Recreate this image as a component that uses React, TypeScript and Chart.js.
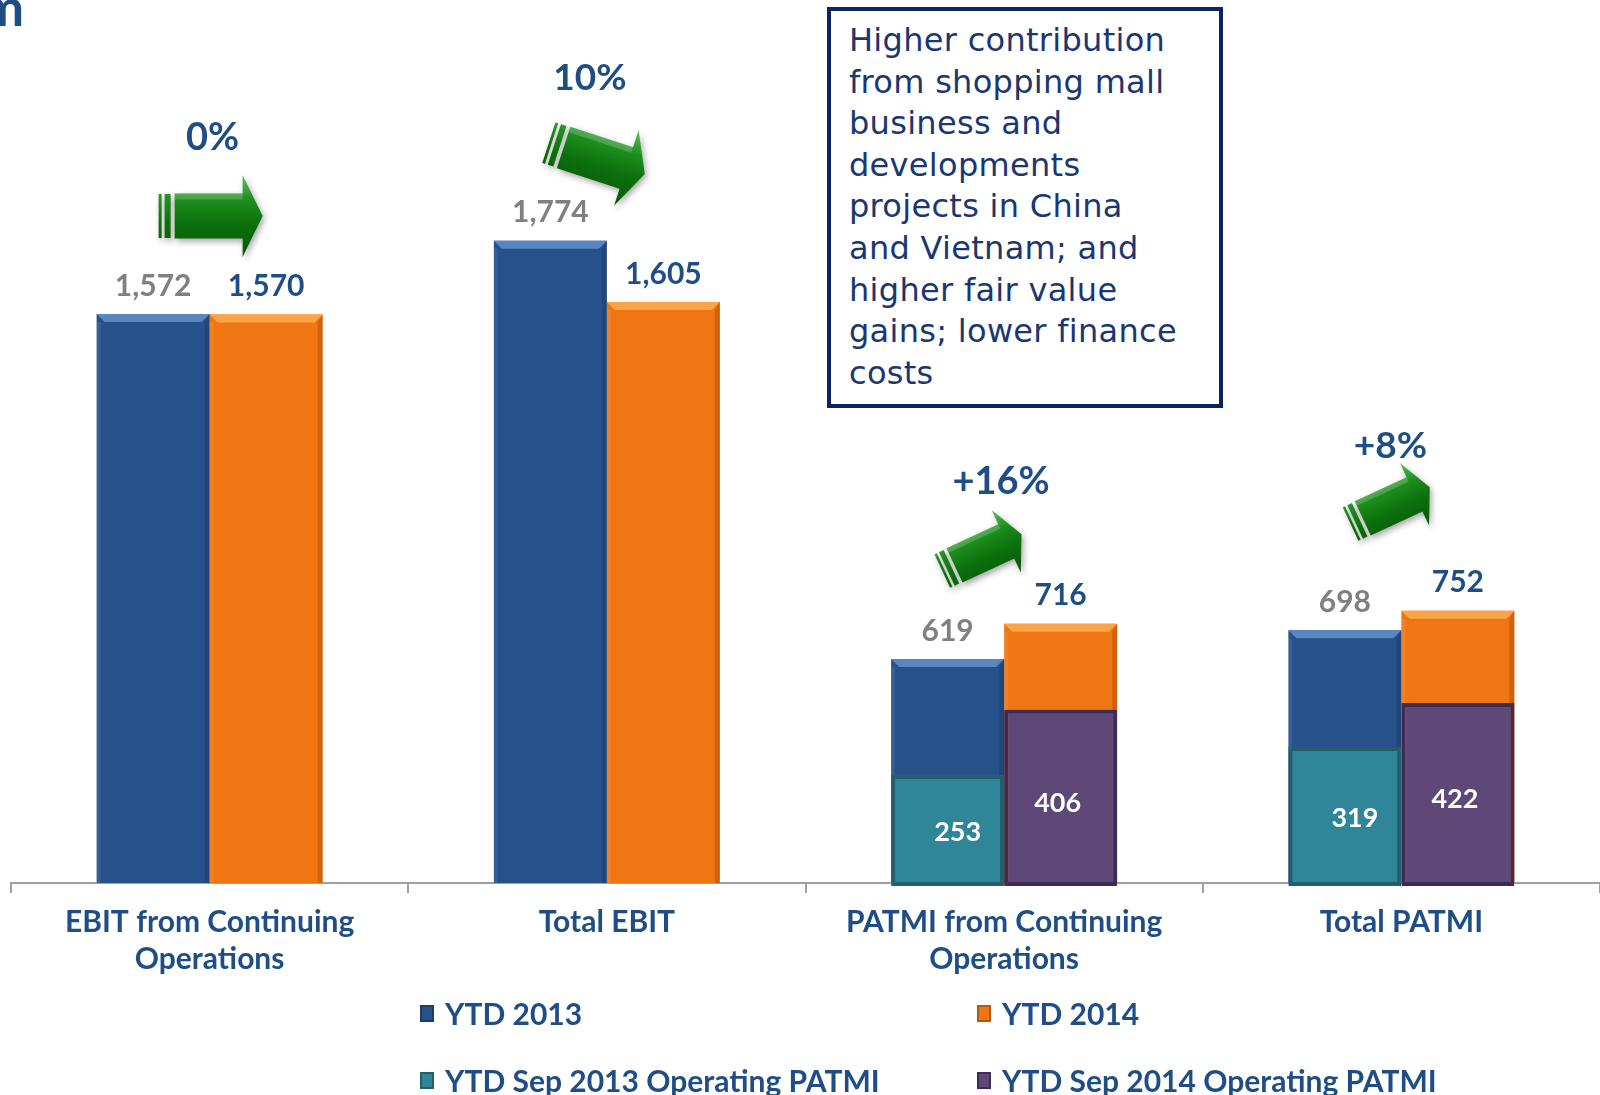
import React, { useEffect, useRef } from "react";
import { Chart, registerables } from "chart.js";

Chart.register(...registerables);

// ---------- data ----------
const categories: string[][] = [
  ["EBIT from Continuing", "Operations"],
  ["Total EBIT"],
  ["PATMI from Continuing", "Operations"],
  ["Total PATMI"],
];
const ytd2013: number[] = [1572, 1774, 619, 698];
const ytd2014: number[] = [1570, 1605, 716, 752];
const opPatmi2013: (number | null)[] = [null, null, 253, 319];
const opPatmi2014: (number | null)[] = [null, null, 406, 422];
const changeLabels: string[] = ["0%", "10%", "+16%", "+8%"];
const seriesNames: string[] = [
  "YTD 2013",
  "YTD 2014",
  "YTD Sep 2013 Operating PATMI",
  "YTD Sep 2014 Operating PATMI",
];
const unitLabel = "S$m";
const noteLines: string[] = [
  "Higher contribution",
  "from shopping mall",
  "business and",
  "developments",
  "projects in China",
  "and Vietnam; and",
  "higher fair value",
  "gains; lower finance",
  "costs",
];

// ---------- styles ----------
const NAVY = "#1F4E87";
const GREY = "#808080";
const BLUE = "#26518A";
const ORANGE = "#F07614";
const TEAL = "#2F8699";
const TEAL_BORDER = "#235F6B";
const PURPLE = "#5E4878";
const PURPLE_BORDER = "#3D2B54";
const seriesColors = [BLUE, ORANGE, TEAL, PURPLE];
const seriesBorders = ["#1B3C68", "#B8570C", TEAL_BORDER, PURPLE_BORDER];

const arrowStyles = [
  { dx: 0, y: 216, angle: 0, scale: 1.0, labelDx: 3, labelY: 138, size: 38 },
  { dx: -11, y: 158, angle: 18, scale: 0.97, labelDx: -17, labelY: 78, size: 37 },
  { dx: -23, y: 553, angle: -25, scale: 0.84, labelDx: -3, labelY: 482, size: 38 },
  { dx: -12, y: 506, angle: -25, scale: 0.84, labelDx: -11, labelY: 446, size: 37 },
];

const fmt = (v: number) => v.toLocaleString("en-US");

function drawArrow(ctx: CanvasRenderingContext2D, cx: number, cy: number, angleDeg: number, s: number) {
  ctx.save();
  ctx.translate(cx, cy);
  ctx.rotate((angleDeg * Math.PI) / 180);
  ctx.scale(s, s);
  const g = ctx.createLinearGradient(0, -41, 0, 41);
  g.addColorStop(0, "#5CC45C");
  g.addColorStop(0.3, "#1E8E1E");
  g.addColorStop(0.6, "#0B700B");
  g.addColorStop(1, "#075707");
  ctx.shadowColor = "rgba(0,0,0,0.35)";
  ctx.shadowBlur = 6;
  ctx.shadowOffsetX = 2;
  ctx.shadowOffsetY = 3;
  ctx.fillStyle = g;
  // tail stripes
  ctx.fillRect(-51, -22, 3, 44);
  ctx.fillRect(-45, -22, 6, 44);
  // body + head
  ctx.beginPath();
  ctx.moveTo(-35, -22.5);
  ctx.lineTo(33, -22.5);
  ctx.lineTo(33, -41);
  ctx.lineTo(53, 0);
  ctx.lineTo(33, 41);
  ctx.lineTo(33, 22.5);
  ctx.lineTo(-35, 22.5);
  ctx.closePath();
  ctx.fill();
  ctx.shadowColor = "transparent";
  ctx.fillStyle = "rgba(255,255,255,0.18)";
  ctx.fillRect(-35, -22.5, 68, 6);
  ctx.restore();
}

const decorPlugin = {
  id: "decor",
  afterDatasetDraw(chart: any, args: any) {
    const ds = chart.data.datasets[args.index];
    if (!ds.bevel) return;
    const ctx = chart.ctx;
    const meta = chart.getDatasetMeta(args.index);
    meta.data.forEach((bar: any) => {
      const left = bar.x - bar.width / 2;
      const right = bar.x + bar.width / 2;
      const top = bar.y;
      const bottom = bar.base;
      const b = 8;
      ctx.save();
      ctx.fillStyle = ds.bevelLight;
      ctx.beginPath();
      ctx.moveTo(left, top);
      ctx.lineTo(right, top);
      ctx.lineTo(right - b, top + b);
      ctx.lineTo(left + b, top + b);
      ctx.closePath();
      ctx.fill();
      ctx.fillStyle = ds.bevelDark;
      ctx.beginPath();
      ctx.moveTo(right, top);
      ctx.lineTo(right, bottom);
      ctx.lineTo(right - 5, bottom);
      ctx.lineTo(right - 5, top + b);
      ctx.closePath();
      ctx.fill();
      ctx.fillStyle = "rgba(255,255,255,0.08)";
      ctx.fillRect(left, top + b, 4, bottom - top - b);
      ctx.restore();
    });
  },
  afterDatasetsDraw(chart: any) {
    const ctx = chart.ctx;
    const xs = chart.scales.x;
    ctx.save();
    ctx.textAlign = "center";
    ctx.textBaseline = "middle";
    chart.data.datasets.forEach((ds: any, di: number) => {
      const meta = chart.getDatasetMeta(di);
      meta.data.forEach((bar: any, i: number) => {
        const v = ds.data[i];
        if (v == null) return;
        if (ds.labelKind === "top") {
          ctx.font = "bold 30px Lato";
          ctx.fillStyle = ds.labelColor;
          ctx.fillText(fmt(v), bar.x, bar.y - 28);
        } else if (ds.labelKind === "inside") {
          ctx.font = "bold 27px Lato";
          ctx.fillStyle = "#FFFFFF";
          ctx.fillText(fmt(v), bar.x + ds.labelDx, (bar.y + bar.base) / 2 + ds.labelDy);
        }
      });
    });
    changeLabels.forEach((lab, i) => {
      const st = arrowStyles[i];
      const cx = xs.getPixelForValue(i);
      drawArrow(ctx, cx + st.dx, st.y, st.angle, st.scale);
      ctx.font = `bold ${st.size}px Lato`;
      ctx.fillStyle = NAVY;
      ctx.textAlign = "center";
      ctx.textBaseline = "middle";
      ctx.fillText(lab, cx + st.labelDx, st.labelY);
    });
    ctx.font = "bold 52px Lato";
    ctx.fillStyle = NAVY;
    ctx.textAlign = "right";
    ctx.textBaseline = "alphabetic";
    ctx.fillText(unitLabel, 24, 26);
    ctx.restore();
  },
};

export default function App() {
  const ref = useRef<HTMLCanvasElement | null>(null);

  useEffect(() => {
    if (!ref.current) return;
    Chart.defaults.font.family = "Lato";
    const chart = new Chart(ref.current, {
      type: "bar",
      data: {
        labels: categories as any,
        datasets: [
          {
            label: seriesNames[2],
            data: opPatmi2013,
            backgroundColor: TEAL,
            borderColor: TEAL_BORDER,
            borderWidth: 4,
            borderSkipped: false,
            stack: "a",
            yAxisID: "y2",
            base: -7,
            clip: false,
            labelKind: "inside",
            labelDx: 10,
            labelDy: 2,
          } as any,
          {
            label: seriesNames[3],
            data: opPatmi2014,
            backgroundColor: PURPLE,
            borderColor: PURPLE_BORDER,
            borderWidth: 4,
            borderSkipped: false,
            stack: "b",
            yAxisID: "y2",
            base: -7,
            clip: false,
            labelKind: "inside",
            labelDx: -3,
            labelDy: 5,
          } as any,
          {
            label: seriesNames[0],
            data: ytd2013,
            backgroundColor: BLUE,
            borderWidth: 0,
            stack: "a",
            yAxisID: "y",
            labelKind: "top",
            labelColor: GREY,
            bevel: true,
            bevelLight: "#5A86C0",
            bevelDark: "rgba(0,0,0,0.12)",
          } as any,
          {
            label: seriesNames[1],
            data: ytd2014,
            backgroundColor: ORANGE,
            borderWidth: 0,
            stack: "b",
            yAxisID: "y",
            labelKind: "top",
            labelColor: NAVY,
            bevel: true,
            bevelLight: "#FBA448",
            bevelDark: "rgba(150,60,0,0.35)",
          } as any,
        ],
      },
      options: {
        animation: false,
        responsive: false,
        maintainAspectRatio: false,
        devicePixelRatio: 1,
        layout: { padding: { left: 11, right: 0, top: 0, bottom: 0 } },
        datasets: { bar: { categoryPercentage: 0.569, barPercentage: 1.0 } },
        plugins: {
          legend: { display: false },
          tooltip: { enabled: false },
          title: { display: false },
        },
        scales: {
          x: {
            offset: true,
            grid: {
              display: true,
              drawOnChartArea: false,
              drawTicks: true,
              tickLength: 10,
              color: "#A0A0A0",
              lineWidth: 2,
              offset: true,
            },
            border: { display: true, color: "#A0A0A0", width: 2 },
            ticks: {
              color: NAVY,
              font: { family: "Lato", weight: "bold", size: 30, lineHeight: 1.22 },
              padding: 11,
              maxRotation: 0,
              autoSkip: false,
            },
            afterFit: (scale: any) => {
              scale.height = 212;
            },
          },
          y: {
            display: false,
            min: 0,
            max: 2439,
          },
          y2: {
            display: false,
            min: 0,
            max: 2070,
          },
        },
      } as any,
      plugins: [decorPlugin as any],
    });
    return () => chart.destroy();
  }, []);

  const legendPos = [
    { left: 420, top: 1013 },
    { left: 977, top: 1013 },
    { left: 420, top: 1080 },
    { left: 977, top: 1080 },
  ];

  return (
    <div
      style={{
        position: "absolute",
        left: 0,
        top: 0,
        width: 1600,
        height: 1095,
        overflow: "hidden",
        background: "#FFFFFF",
      }}
    >
      <canvas
        ref={ref}
        width={1600}
        height={1095}
        style={{ position: "absolute", left: 0, top: 0, width: 1600, height: 1095 }}
      />
      <div
        style={{
          position: "absolute",
          left: 827,
          top: 7,
          width: 396,
          height: 401,
          boxSizing: "border-box",
          border: "4px solid #0B2265",
          background: "#FFFFFF",
          paddingLeft: 18,
          paddingTop: 9,
          fontFamily: "'DejaVu Sans'",
          fontSize: 32,
          letterSpacing: "0.3px",
          lineHeight: "41.6px",
          color: "#1A3673",
          whiteSpace: "pre",
        }}
      >
        {noteLines.map((l, i) => (
          <div key={i}>{l}</div>
        ))}
      </div>
      {seriesNames.map((name, i) => (
        <div
          key={name}
          style={{
            position: "absolute",
            left: legendPos[i].left,
            top: legendPos[i].top - 20,
            height: 40,
            display: "flex",
            alignItems: "center",
            fontFamily: "Lato",
            fontWeight: "bold",
            fontSize: 30,
            color: NAVY,
            whiteSpace: "nowrap",
          }}
        >
          <span
            style={{
              display: "inline-block",
              width: 14,
              height: 17,
              boxSizing: "border-box",
              background: seriesColors[i],
              border: `2px solid ${seriesBorders[i]}`,
              marginRight: 11,
            }}
          />
          {name}
        </div>
      ))}
    </div>
  );
}
